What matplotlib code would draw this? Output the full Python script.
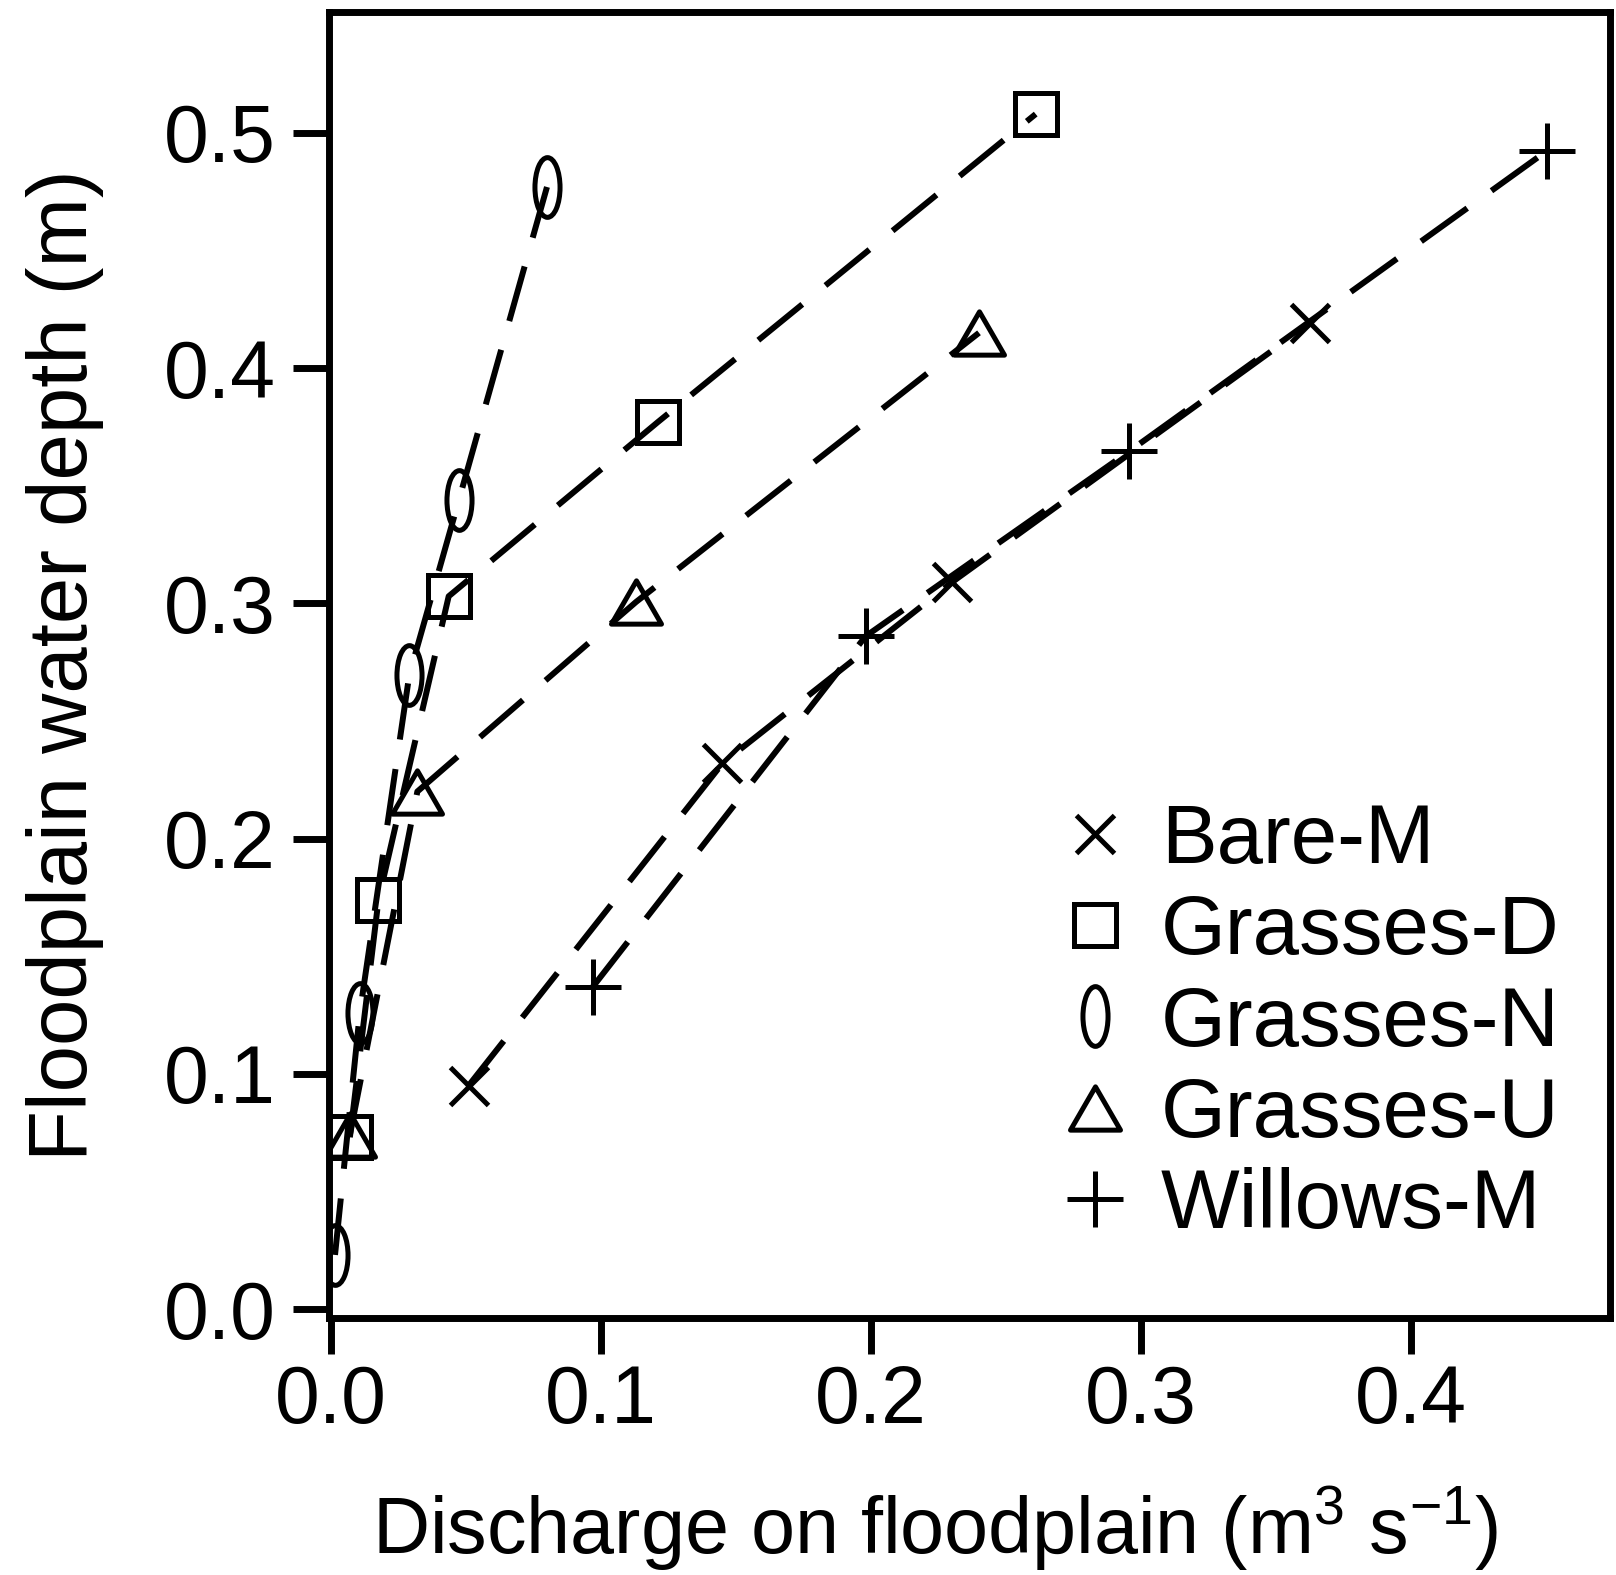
import matplotlib
matplotlib.use("Agg")
from matplotlib import pyplot as plt
from matplotlib.path import Path
from matplotlib.transforms import Affine2D
import numpy as np

plt.rcParams['font.family'] = ['Liberation Sans', 'DejaVu Sans']
plt.rcParams['mathtext.fontset'] = 'custom'
plt.rcParams['mathtext.rm'] = 'Liberation Sans'
plt.rcParams['mathtext.it'] = 'Liberation Sans'

# values
bare_x = [0.051, 0.145, 0.230, 0.3625]
bare_y = [0.095, 0.232, 0.309, 0.419]
gd_x = [0.007, 0.0176, 0.0436, 0.121, 0.261]
gd_y = [0.073, 0.174, 0.303, 0.377, 0.508]
gn_x = [0.0015, 0.0107, 0.029, 0.0474, 0.080]
gn_y = [0.023, 0.126, 0.2695, 0.344, 0.477]
gu_x = [0.007, 0.032, 0.113, 0.240]
gu_y = [0.074, 0.220, 0.3006, 0.415]
wil_x = [0.097, 0.198, 0.2956, 0.4505]
wil_y = [0.137, 0.286, 0.3646, 0.4925]

labels = ['Bare-M', 'Grasses-D', 'Grasses-N', 'Grasses-U', 'Willows-M']

# narrow upright ellipse and an equilateral triangle
ellipse = Path.unit_circle().transformed(Affine2D().scale(0.42, 1.0))
tri = Path([(-0.5, -0.433), (0.5, -0.433), (0.0, 0.433), (-0.5, -0.433)],
	[Path.MOVETO, Path.LINETO, Path.LINETO, Path.CLOSEPOLY])

series = [
	(bare_x, bare_y, 'x', 27),
	(gd_x, gd_y, 's', 30),
	(gn_x, gn_y, ellipse, 43),
	(gu_x, gu_y, tri, 36),
	(wil_x, wil_y, '+', 41),
]

fig = plt.figure(figsize=(16.16, 15.75), dpi=100)
ax = fig.add_axes([0.2033, 0.1629, 0.9963 - 0.2033, 0.9921 - 0.1629])

for (x, y, m, ms), lab in zip(series, labels):
	ax.plot(x, y, color='black', lw=4.3, dashes=(9.5, 5), zorder=2)
	ax.plot(x, y, linestyle='none', marker=m, markersize=ms, markerfacecolor='none',
		markeredgecolor='black', markeredgewidth=3.6, label=lab, zorder=3)

ax.set_xlim(-0.0009, 0.4737)
ax.set_ylim(-0.004, 0.5512)
ax.set_xticks([0.0, 0.1, 0.2, 0.3, 0.4])
ax.set_yticks([0.0, 0.1, 0.2, 0.3, 0.4, 0.5])
ax.set_xticklabels(['0.0', '0.1', '0.2', '0.3', '0.4'])
ax.set_yticklabels(['0.0', '0.1', '0.2', '0.3', '0.4', '0.5'])
ax.tick_params(direction='out', length=26, width=5, labelsize=58)
ax.tick_params(axis='x', pad=7)
ax.tick_params(axis='y', pad=12)
for s in ax.spines.values():
	s.set_linewidth(5)

ax.set_xlabel('Discharge on floodplain (m$^{3}$ s$^{-1}$)', fontsize=57, va='baseline')
ax.xaxis.set_label_coords(0.473, -0.1807)
ax.set_ylabel('Floodplain water depth (m)', fontsize=60, va='center')
ax.yaxis.set_label_coords(-0.206, 0.5)

ax.legend(loc='upper left', bbox_to_anchor=(0.5396, 0.421), frameon=False, fontsize=60,
	handletextpad=0.29, labelspacing=0.16, borderaxespad=0, borderpad=0.4,
	handlelength=1.0)

fig.savefig('out.png', dpi=100)
